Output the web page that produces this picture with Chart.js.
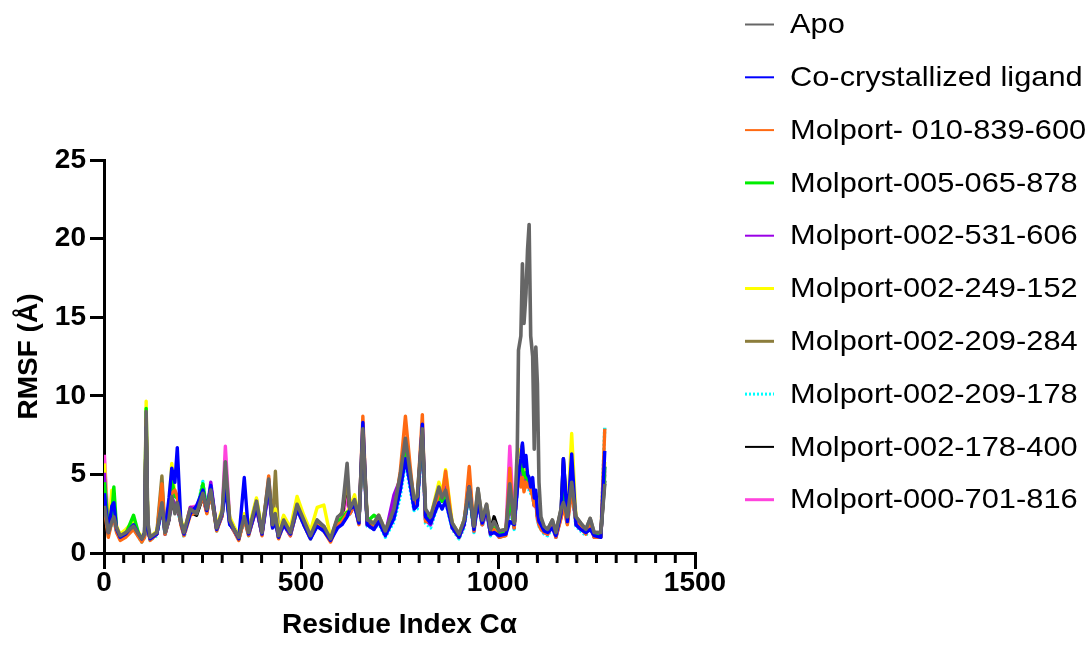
<!DOCTYPE html>
<html>
<head>
<meta charset="utf-8">
<script src="https://cdn.jsdelivr.net/npm/chart.js@4.4.0/dist/chart.umd.min.js"></script>
<style>
  html, body { margin: 0; padding: 0; background: #fff; }
</style>
</head>
<body>
<canvas id="rmsfChart" width="1090" height="650"></canvas>
<script>
// residue index (C-alpha) sampled along the trace
const residues = [1,11,20,25,32,41,55,75,88,96,
  103,107,111,117,134,147,155,165,172,180,
  186,195,203,219,235,251,261,271,286,300,
  308,319,330,342,356,367,387,401,418,428,
  435,443,456,473,490,507,524,541,558,575,
  593,604,617,624,636,647,657,668,685,697,
  714,736,752,765,776,787,795,808,816,829,
  850,858,867,884,901,914,927,939,949,960,
  971,981,990,1003,1020,1030,1041,1049,1052,1058,
  1062,1066,1071,1075,1079,1083,1088,1092,1096,1100,
  1104,1109,1117,1126,1138,1147,1160,1166,1176,1187,
  1198,1210,1223,1234,1244,1261,1271];

// RMSF values (Å)
const apo = [3.0,1.3,2.0,2.3,1.6,1.1,1.3,1.7,1.2,0.9,
  1.2,9.0,2.0,1.0,1.3,3.2,1.3,2.2,3.6,2.5,
  3.2,2.0,1.3,2.8,2.5,3.8,2.8,4.0,1.6,2.6,
  5.8,2.1,1.5,1.0,2.3,1.3,3.3,1.3,4.7,1.8,
  2.5,1.1,2.1,1.3,3.1,2.1,1.1,2.1,1.7,0.9,
  2.3,2.5,5.7,2.8,3.4,2.1,7.9,2.1,1.9,2.4,
  1.4,2.8,5.0,7.3,5.3,3.4,3.6,7.9,2.8,2.3,
  4.2,3.5,4.0,1.9,1.2,2.1,4.2,1.7,4.1,2.1,
  3.1,1.5,2.0,1.4,1.5,4.4,1.9,6.6,12.9,13.8,
  18.4,14.6,16.5,19.3,20.9,13.8,12.5,6.6,13.1,10.8,
  4.5,2.3,1.7,1.5,2.1,1.3,2.8,3.2,2.3,4.5,
  2.3,1.9,1.5,2.2,1.3,1.3,4.4];
const coCrystal = [3.8,1.3,3.0,3.2,1.5,1.0,1.2,1.8,1.2,0.9,
  1.3,8.0,1.5,0.9,1.2,3.0,1.4,3.5,5.4,4.5,
  6.7,2.0,1.2,2.5,3.0,4.0,2.7,4.3,1.5,2.5,
  4.2,1.8,1.5,0.9,4.8,1.2,2.9,1.2,4.3,1.6,
  2.0,1.0,1.8,1.2,2.8,1.8,0.9,1.7,1.4,0.8,
  1.6,1.8,2.3,2.8,3.0,1.9,8.3,1.8,1.5,2.0,
  1.1,2.2,4.0,6.0,4.5,2.8,3.0,8.2,2.3,1.9,
  3.2,2.8,3.3,1.6,1.0,1.8,4.2,1.5,3.2,1.9,
  2.8,1.2,1.3,1.1,1.2,2.0,1.8,4.0,5.0,6.0,
  7.0,5.5,6.2,5.0,4.8,4.2,4.8,3.5,4.0,2.6,
  2.0,1.8,1.4,1.3,1.6,1.1,2.5,6.0,2.0,6.3,
  1.8,1.5,1.3,1.5,1.1,1.0,6.5];
const mp010839600 = [2.8,1.0,2.0,2.2,1.3,0.8,1.0,1.5,1.0,0.7,
  1.0,8.5,1.5,0.8,1.2,4.4,1.2,2.5,3.8,4.0,
  3.6,1.8,1.1,2.4,2.6,3.6,2.5,3.9,1.4,2.4,
  5.2,1.9,1.4,0.8,2.2,1.1,3.0,1.1,4.9,1.6,
  2.2,0.9,1.9,1.1,2.8,1.8,0.9,1.8,1.4,0.7,
  1.8,2.0,2.5,2.5,3.1,1.8,8.7,1.8,1.6,2.1,
  1.2,2.5,5.2,8.7,5.8,3.1,3.3,8.8,2.0,2.0,
  3.8,3.6,5.2,1.6,1.0,1.8,5.5,1.4,3.6,1.8,
  2.8,1.2,1.5,1.0,1.1,5.4,1.6,4.5,5.0,4.2,
  4.8,3.9,4.5,4.2,4.4,4.0,3.6,3.0,3.3,2.2,
  1.8,1.5,1.3,1.2,2.0,1.0,2.2,3.0,1.8,4.0,
  2.0,1.6,1.2,1.8,1.0,1.0,7.9];
const mp005065878 = [4.5,1.4,2.5,4.2,1.5,1.0,1.2,2.4,1.2,0.9,
  1.2,9.2,1.6,0.9,1.3,3.3,1.3,2.4,4.7,3.6,
  3.5,2.0,1.3,2.6,2.6,4.4,2.7,4.1,1.5,2.5,
  4.6,2.0,1.5,1.0,2.3,1.3,3.2,1.3,4.5,1.7,
  2.3,1.0,2.0,1.2,2.9,2.0,1.0,1.9,1.5,0.8,
  2.0,2.2,2.6,2.6,3.3,2.0,7.5,2.0,2.4,2.2,
  1.3,2.5,4.6,6.8,5.0,3.2,3.4,7.5,2.4,2.1,
  3.6,3.3,3.8,1.7,1.1,1.9,4.0,1.5,3.6,2.0,
  2.8,1.3,1.6,1.2,1.3,3.5,1.7,4.6,5.2,5.7,
  5.4,4.8,5.1,4.6,4.3,4.4,4.0,3.2,3.6,2.4,
  2.0,1.6,1.4,1.3,1.8,1.2,2.4,4.0,2.0,4.8,
  1.9,1.6,1.3,1.9,1.1,1.1,5.5];
const mp002531606 = [5.1,1.3,2.2,2.3,1.4,1.0,1.2,1.6,1.1,0.9,
  1.1,7.8,1.5,0.9,1.2,3.0,1.2,2.2,3.6,3.0,
  3.2,1.9,1.2,2.9,2.8,3.6,2.6,4.5,1.5,2.4,
  4.8,1.9,1.4,0.9,2.2,1.2,2.8,1.2,4.0,1.6,
  2.2,1.0,1.8,1.1,2.8,1.9,1.0,1.8,1.5,0.8,
  1.8,2.0,2.4,2.5,3.0,1.9,7.2,1.8,1.5,2.0,
  1.2,3.7,4.7,6.5,4.8,3.2,3.2,7.4,2.1,1.8,
  3.6,3.7,4.2,1.6,1.0,1.8,4.0,1.4,3.4,1.8,
  2.7,1.2,1.5,1.0,1.2,3.2,1.6,4.2,4.8,5.0,
  5.2,4.6,4.8,4.4,4.2,4.0,3.8,3.0,3.2,2.3,
  1.8,1.6,1.3,1.2,1.7,1.0,2.3,3.6,1.9,4.3,
  1.8,1.5,1.3,1.8,1.0,1.0,5.5];
const mp002249152 = [5.7,1.5,4.0,3.0,1.7,1.2,1.5,2.0,1.3,1.0,
  1.3,9.65,1.8,1.0,1.4,3.4,1.4,3.0,5.7,3.6,
  3.6,2.2,1.4,2.9,2.8,4.0,2.9,4.2,1.7,2.8,
  5.0,2.3,1.7,1.1,2.5,1.5,3.5,1.5,4.4,1.9,
  2.8,1.3,2.4,1.6,3.6,2.4,1.4,2.9,3.05,1.0,
  2.2,2.4,2.6,2.9,3.7,2.2,7.4,2.2,1.9,2.4,
  1.4,2.9,4.9,6.9,5.2,3.5,3.6,7.6,2.5,2.3,
  4.5,3.8,5.3,1.9,1.2,2.1,4.2,1.7,3.8,2.1,
  3.0,1.4,1.7,1.3,1.4,3.8,1.9,4.8,5.5,6.6,
  6.0,5.6,5.0,4.8,4.5,4.2,4.0,3.4,3.6,2.5,
  2.2,1.9,1.5,1.4,1.9,1.2,2.6,4.2,2.1,7.6,
  2.2,1.7,1.4,2.0,1.2,1.1,5.8];
const mp002209284 = [3.2,1.3,2.1,2.4,1.6,1.1,1.3,1.8,1.2,0.9,
  1.2,8.0,1.8,1.0,1.3,4.9,1.3,2.3,3.3,2.8,
  3.3,2.0,1.3,2.7,2.6,3.7,2.7,4.0,1.6,2.6,
  5.3,2.1,1.6,1.0,2.4,1.4,3.4,1.3,4.5,2.0,
  5.2,1.2,2.3,1.3,3.0,2.1,1.1,2.0,1.7,0.9,
  2.2,2.6,4.5,2.8,3.5,2.1,7.5,2.1,1.8,2.4,
  1.4,2.8,4.9,7.0,5.1,3.4,3.5,7.6,2.7,2.3,
  4.1,3.6,4.1,1.9,1.2,2.1,4.2,1.7,4.1,2.1,
  3.1,1.5,1.9,1.4,1.5,3.6,1.9,5.0,5.8,6.5,
  6.9,5.8,5.5,4.9,4.6,4.3,4.2,3.4,3.8,2.6,
  2.2,2.0,1.6,1.5,2.1,1.3,2.8,3.4,2.3,4.5,
  2.3,1.9,1.5,2.2,1.3,1.3,5.0];
const mp002209178 = [3.5,1.1,1.9,2.1,1.3,0.9,1.1,1.6,1.0,0.7,
  1.0,7.5,1.5,0.8,1.1,2.9,1.1,2.2,3.4,2.8,
  3.0,1.8,1.0,2.6,2.6,4.55,2.6,3.9,1.4,2.4,
  4.5,1.9,1.4,0.8,2.1,1.1,3.0,1.1,4.2,1.5,
  2.1,0.9,1.8,1.1,2.7,1.8,0.9,1.8,1.4,0.8,
  1.8,2.0,2.3,2.5,3.0,1.8,7.3,1.7,1.5,1.9,
  1.0,2.0,3.6,5.8,4.2,2.7,2.8,7.2,1.9,1.6,
  3.3,2.8,3.3,1.5,0.9,1.6,3.8,1.3,3.2,1.7,
  2.6,1.1,1.4,1.0,1.1,3.0,1.5,4.0,4.8,5.0,
  5.2,4.5,4.8,4.2,4.0,3.8,3.6,2.9,3.2,2.1,
  1.7,1.5,1.2,1.1,1.6,1.0,2.3,3.2,1.8,4.0,
  1.7,1.4,1.1,1.7,1.0,1.0,8.05];
const mp002178400 = [3.0,1.2,2.0,2.2,1.5,1.0,1.2,1.6,1.1,0.9,
  1.1,8.2,1.7,0.9,1.2,3.0,1.2,2.1,3.4,2.6,
  3.0,1.9,1.2,2.6,2.4,3.6,2.6,3.8,1.5,2.4,
  5.0,1.9,1.4,0.9,2.2,1.2,3.0,1.2,4.3,1.7,
  2.4,1.0,2.0,1.2,2.9,1.9,1.0,1.9,1.6,0.8,
  2.1,2.3,4.6,2.6,3.2,1.9,7.4,1.9,1.7,2.2,
  1.3,2.6,4.6,6.6,4.8,3.1,3.3,7.4,2.4,2.1,
  3.9,3.3,3.8,1.8,1.1,1.9,3.9,1.5,3.8,1.9,
  2.9,1.4,2.3,1.3,1.4,3.4,1.8,4.4,5.0,5.4,
  5.6,4.8,4.9,4.5,4.3,4.1,3.9,3.2,3.5,2.4,
  2.0,1.8,1.5,1.4,1.9,1.2,2.7,6.0,2.1,4.2,
  2.1,1.7,1.4,2.0,1.2,1.2,4.6];
const mp000701816 = [6.25,1.3,2.1,2.3,1.5,1.0,1.2,1.7,1.2,0.9,
  1.2,8.0,1.7,0.9,1.3,3.1,1.3,2.2,3.5,2.7,
  3.1,2.0,1.3,2.9,3.0,3.8,2.8,4.2,1.6,2.6,
  6.8,2.1,1.5,1.0,2.3,1.3,3.1,1.3,4.4,1.7,
  2.3,1.0,2.0,1.2,2.9,2.0,1.0,1.9,1.6,0.8,
  2.1,2.3,3.5,2.6,3.2,2.0,7.4,2.0,1.7,2.1,
  1.2,2.6,4.5,6.6,4.9,3.1,3.2,7.4,2.2,1.9,
  3.7,3.5,4.0,1.7,1.1,1.9,4.0,1.5,3.6,1.9,
  2.8,1.3,1.6,1.2,1.3,6.8,1.7,4.3,5.0,5.4,
  5.2,4.6,4.9,4.4,4.2,4.0,3.8,3.1,3.4,2.3,
  1.9,1.7,1.4,1.3,1.8,1.1,2.5,3.6,2.0,4.2,
  2.0,1.6,1.3,1.9,1.1,1.1,5.2];

const seriesLabels = ['Apo', 'Co-crystallized ligand', 'Molport- 010-839-600', 'Molport-005-065-878',
  'Molport-002-531-606', 'Molport-002-249-152', 'Molport-002-209-284', 'Molport-002-209-178',
  'Molport-002-178-400', 'Molport-000-701-816'];
const seriesValues = [apo, coCrystal, mp010839600, mp005065878, mp002531606,
  mp002249152, mp002209284, mp002209178, mp002178400, mp000701816];
const seriesColors = ['#666666', '#0000ff', '#ff6a13', '#00ee00', '#9a00e6',
  '#ffff00', '#8c7d3c', '#00ffff', '#000000', '#ff44dd'];
const xTicks = [0, 500, 1000, 1500];
const yTicks = [0, 5, 10, 15, 20, 25];

const legendWidths = [2, 2, 2, 3, 2, 3, 3, 3, 2, 3];

// minor ticks every 50 residues on the x axis
const minorTicks = {
    id: 'minorTicks',
    afterDraw(chart) {
        const xs = chart.scales.x;
        const ctx = chart.ctx;
        const y0 = chart.chartArea.bottom;
        ctx.save();
        ctx.strokeStyle = '#000';
        ctx.lineWidth = 3;
        for (let v = 50; v < 1500; v += 50) {
            if (v % 500 === 0) continue;
            const px = xs.getPixelForValue(v);
            ctx.beginPath();
            ctx.moveTo(px, y0);
            ctx.lineTo(px, y0 + 10);
            ctx.stroke();
        }
        ctx.restore();
    }
};

// legend on the right, one row per series
const sideLegend = {
    id: 'sideLegend',
    afterDraw(chart) {
        const ctx = chart.ctx;
        ctx.save();
        ctx.font = '28px "Liberation Sans", Arial, sans-serif';
        ctx.textBaseline = 'middle';
        ctx.fillStyle = '#000';
        chart.data.datasets.forEach((ds, i) => {
            const y = 24.5 + i * 52.8;
            ctx.strokeStyle = ds.borderColor;
            ctx.lineWidth = legendWidths[i];
            ctx.setLineDash(ds.borderDash || []);
            ctx.beginPath();
            ctx.moveTo(745, y);
            ctx.lineTo(774, y);
            ctx.stroke();
            ctx.setLineDash([]);
            ctx.save();
            ctx.translate(790, y + 1);
            ctx.scale(1.1, 1);
            ctx.fillText(ds.label, 0, 0);
            ctx.restore();
        });
        ctx.restore();
    }
};

const datasets = seriesLabels.map((label, i) => ({
    label: label,
    data: residues.map((r, j) => ({x: r, y: seriesValues[i][j]})),
    borderColor: seriesColors[i],
    backgroundColor: seriesColors[i],
    borderWidth: i === 0 ? 3.6 : 3.4,
    borderDash: i === 7 ? [2, 2] : undefined,
    borderJoinStyle: 'round',
    pointRadius: 0,
    fill: false,
    tension: 0
}));

const tickFont = {family: '"Liberation Sans", Arial, sans-serif', size: 28, weight: 'bold'};
const titleFont = {family: '"Liberation Sans", Arial, sans-serif', size: 28, weight: 'bold'};

const ctx = document.getElementById('rmsfChart').getContext('2d');
new Chart(ctx, {
    type: 'line',
    data: {datasets: datasets},
    options: {
        responsive: false,
        animation: false,
        layout: {padding: {top: 160, right: 395, left: 0, bottom: 0}},
        plugins: {
            legend: {display: false},
            tooltip: {enabled: false}
        },
        scales: {
            x: {
                type: 'linear',
                min: 0,
                max: 1500,
                afterFit: s => { s.height = 97; },
                afterBuildTicks: s => { s.ticks = xTicks.map(v => ({value: v})); },
                ticks: {color: '#000', font: tickFont, padding: -3, maxRotation: 0, callback: v => String(v)},
                grid: {display: true, drawOnChartArea: false, drawTicks: true, tickLength: 16, color: '#000', lineWidth: 3},
                border: {display: true, color: '#000', width: 3},
                title: {display: true, text: 'Residue Index Cα', color: '#000', font: titleFont, padding: {top: 0, bottom: 8}}
            },
            y: {
                min: 0,
                max: 25,
                afterFit: s => { s.width = 104; },
                afterBuildTicks: s => { s.ticks = yTicks.map(v => ({value: v})); },
                ticks: {color: '#000', font: tickFont, padding: 4, callback: v => String(v)},
                grid: {display: true, drawOnChartArea: false, drawTicks: true, tickLength: 14, color: '#000', lineWidth: 3},
                border: {display: true, color: '#000', width: 3},
                title: {display: true, text: 'RMSF (Å)', color: '#000', font: titleFont, padding: {top: 12, bottom: 0}}
            }
        }
    },
    plugins: [minorTicks, sideLegend]
});
</script>
</body>
</html>
